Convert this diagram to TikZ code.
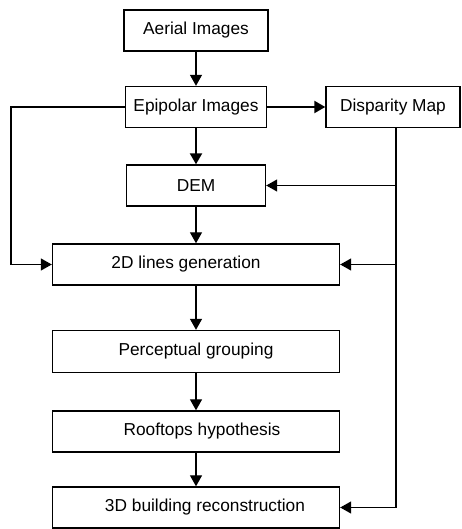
\documentclass[tikz,border=0pt]{standalone}
\usepackage{fontspec}
\setmainfont{Liberation Sans}
\usetikzlibrary{arrows.meta}
\begin{document}
\begin{tikzpicture}[x=1pt,y=-1pt,
  box/.style={draw, line width=1.4pt, inner sep=0pt, minimum height=41pt,
    font=\fontsize{17.3}{19}\selectfont},
  arr/.style={-{Triangle[length=11pt,width=12pt]}, line width=1.3pt},
  thickarr/.style={-{Triangle[length=11pt,width=12pt]}, line width=2.2pt}]
\useasboundingbox (0,0) rectangle (461,529);
\node[box, minimum width=144pt] (aerial) at (196,30.5) {Aerial Images};
\node[box, minimum width=141pt] (epi) at (196,107) {Epipolar Images};
\node[box, minimum width=134pt] (disp) at (393,107) {Disparity Map};
\node[box, minimum width=139pt] (dem) at (196,185.5) {DEM};
\node[box, minimum width=287pt] (lines) at (196,264.5) {2D lines generation\hspace*{20pt}};
\node[box, minimum width=287pt, minimum height=42pt] (percep) at (196,351.5) {Perceptual grouping};
\node[box, minimum width=287pt] (roof) at (196,431.5) {\hspace*{12pt}Rooftops hypothesis};
\node[box, minimum width=287pt] (recon) at (196,507.5) {\hspace*{18pt}3D building reconstruction};
\coordinate (L) at (11,107);
\coordinate (R) at (396,507.5);
\draw[arr] (aerial) -- (epi);
\draw[thickarr] (epi) -- (dem);
\draw[thickarr] (epi) -- (disp);
\draw[arr] (dem) -- (lines);
\draw[arr] (lines) -- (percep);
\draw[arr] (percep) -- (roof);
\draw[arr] (roof) -- (recon);
\draw[arr] (epi.west) -- (L) |- (lines.west);
\draw[arr] (disp.south -| R) |- (recon.east);
\draw[arr] (R |- dem) -- (dem.east);
\draw[arr] (R |- lines) -- (lines.east);
\end{tikzpicture}
\end{document}
